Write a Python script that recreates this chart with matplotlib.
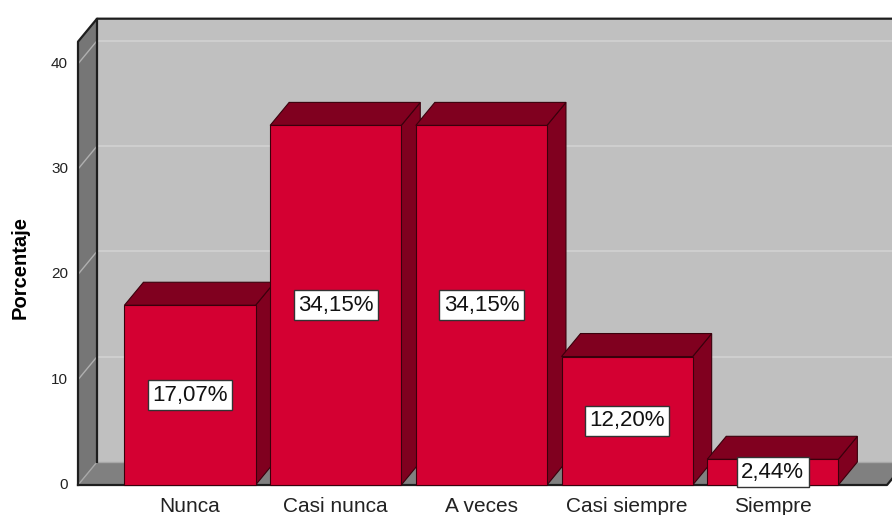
import matplotlib.pyplot as plt
from matplotlib.patches import Polygon, Rectangle

# datos
categorias = ['Nunca', 'Casi nunca', 'A veces', 'Casi siempre', 'Siempre']
porcentajes = [17.07, 34.15, 34.15, 12.20, 2.44]
etiquetas = ['17,07%', '34,15%', '34,15%', '12,20%', '2,44%']
ticks_y = [0, 10, 20, 30, 40]

plt.rcParams['font.family'] = ['Liberation Sans', 'DejaVu Sans']

fig = plt.figure(figsize=(8.92, 5.15), dpi=100)
ax = fig.add_axes([0, 0, 1, 1])
ax.set_xlim(-190 / 145.7, (892 - 190) / 145.7)
ax.set_ylim((485 - 515) / 10.53, 485 / 10.53)
ax.axis('off')

# profundidad 3D (en unidades de datos)
dx = 19 / 145.7
dy = 23 / 10.53
izq = (78 - 190) / 145.7
der = (887 - 190) / 145.7
techo = 42.1
ancho = 0.45

# pared del fondo
ax.add_patch(Rectangle((izq + dx, dy), 10, techo, facecolor='#C0C0C0', edgecolor='none'))
# pared izquierda
ax.add_patch(Polygon([(izq, 0), (izq, techo), (izq + dx, techo + dy), (izq + dx, dy)],
                     facecolor='#767676', edgecolor='none'))
# piso
ax.add_patch(Polygon([(izq, 0), (der, 0), (der + dx, dy), (izq + dx, dy)],
                     facecolor='#808080', edgecolor='none'))

# lineas de cuadricula
for t in ticks_y[1:]:
    ax.plot([izq + dx, 10], [t + dy, t + dy], color='#D2D2D2', lw=1.2, zorder=1)
    ax.plot([izq, izq + dx], [t, t + dy], color='#B0B0B0', lw=1, zorder=1)
ax.plot([izq + dx, 10], [dy, dy], color='#A8A8A8', lw=1, zorder=1)
ax.plot([izq, izq + dx], [0, dy], color='#A8A8A8', lw=1, zorder=1)

# bordes
borde = '#1E1E1E'
ax.plot([izq, izq, izq + dx, 10], [0, techo, techo + dy, techo + dy], color=borde, lw=1.6, zorder=2)
ax.plot([izq + dx, izq + dx], [dy, techo + dy], color=borde, lw=1.6, zorder=2)
ax.plot([izq, der, der + dx], [0, 0, dy], color=borde, lw=1.6, zorder=2)

# barras
for i, v in enumerate(porcentajes):
    x0, x1 = i - ancho, i + ancho
    z = 3 + i
    ax.add_patch(Polygon([(x1, 0), (x1, v), (x1 + dx, v + dy), (x1 + dx, dy)],
                         facecolor='#80001F', edgecolor='#3A000C', lw=0.8, zorder=z))
    ax.add_patch(Polygon([(x0, v), (x1, v), (x1 + dx, v + dy), (x0 + dx, v + dy)],
                         facecolor='#80001F', edgecolor='#3A000C', lw=0.8, zorder=z))
    ax.add_patch(Rectangle((x0, 0), 2 * ancho, v, facecolor='#D40032',
                           edgecolor='#3A000C', lw=0.8, zorder=z))
    ax.text(i, v / 2, etiquetas[i], ha='center', va='center', fontsize=16, color='#111111',
            zorder=20, bbox=dict(boxstyle='square,pad=0.2', facecolor='white',
                                 edgecolor='#333333', lw=1))
    ax.text(i, (485 - 512) / 10.53, categorias[i], ha='center', va='baseline',
            fontsize=15, color='#222222')

# eje y
for t in ticks_y:
    ax.text((68 - 190) / 145.7, t, str(t), ha='right', va='center', fontsize=11, color='#222222')
ax.text((20 - 190) / 145.7, 20.7, 'Porcentaje', rotation=90, ha='center', va='center',
        fontsize=14.5, fontweight='bold', color='black')

fig.savefig('out.png', dpi=100)
